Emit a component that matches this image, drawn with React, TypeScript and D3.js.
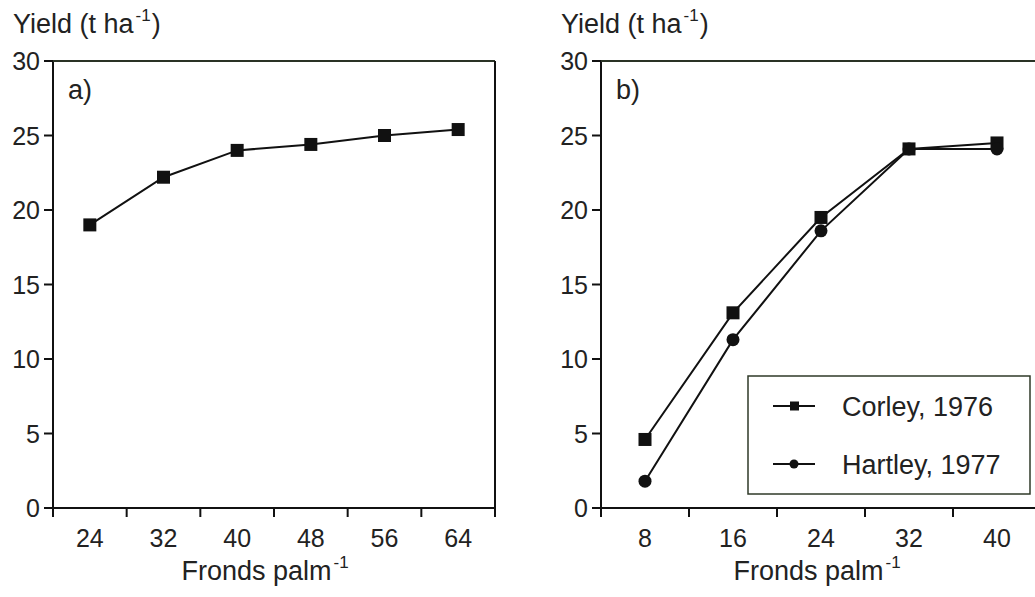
import React from 'react';
import * as d3 from 'd3';

// panel a) yield vs fronds per palm
const frondsA = [24, 32, 40, 48, 56, 64];
const yieldA = [19.0, 22.2, 24.0, 24.4, 25.0, 25.4];

// panel b) two literature series
const frondsB = [8, 16, 24, 32, 40];
const corley = [4.6, 13.1, 19.5, 24.1, 24.5];
const hartley = [1.8, 11.3, 18.6, 24.1, 24.1];

const yTicks = [0, 5, 10, 15, 20, 25, 30];
const legendLabels = ['Corley, 1976', 'Hartley, 1977'];

const W = 1035;
const H = 597;
const FONT = '"Liberation Sans", Arial, sans-serif';
const TXT = '#222';
const INK = '#111';

const y = d3.scaleLinear().domain([0, 30]).range([508, 61]);
const xA = d3.scaleBand<number>().domain(frondsA).range([53, 495]).padding(0);
const xB = d3.scaleBand<number>().domain(frondsB).range([601, 1041]).padding(0);

function Axes({ x, cats, label, titleX }: { x: d3.ScaleBand<number>; cats: number[]; label: string; titleX: number }) {
  const [x0, x1] = x.range();
  const y0 = y(0);
  const y1 = y(30);
  const bounds = [...cats.map(c => x(c) as number), x1];
  return (
    <g>
      {/* frame */}
      <line x1={x0 - 9} x2={x1} y1={y0} y2={y0} stroke={INK} strokeWidth={2} />
      <line x1={x0} x2={x0} y1={y1} y2={y0 + 9} stroke={INK} strokeWidth={2} />
      <line x1={x0} x2={x1} y1={y1} y2={y1} stroke="#2a3325" strokeWidth={2} />
      <line x1={x1} x2={x1} y1={y1} y2={y0 + 9} stroke={INK} strokeWidth={2} />
      {yTicks.map(t => (
        <g key={t}>
          <line x1={x0 - 9} x2={x0} y1={y(t)} y2={y(t)} stroke={INK} strokeWidth={2} />
          <text x={x0 - 13} y={y(t)} dy="0.36em" textAnchor="end" fontSize={25} fill={TXT} fontFamily={FONT}>
            {t}
          </text>
        </g>
      ))}
      {bounds.map((b, i) => (
        <line key={i} x1={b} x2={b} y1={y0} y2={y0 + 9} stroke={INK} strokeWidth={2} />
      ))}
      {cats.map(c => (
        <text key={c} x={(x(c) as number) + x.bandwidth() / 2} y={547} textAnchor="middle" fontSize={25} fill={TXT} fontFamily={FONT}>
          {c}
        </text>
      ))}
      <text x={x0 + 15} y={99} fontSize={27} fill={TXT} fontFamily={FONT}>{label}</text>
      <text x={titleX} y={580} textAnchor="middle" fontSize={27} fill={TXT} fontFamily={FONT}>
        Fronds palm<tspan fontSize={17} dx={2} dy={-12}>-1</tspan>
      </text>
      <text x={x0 - 40} y={33} fontSize={27} fill={TXT} fontFamily={FONT}>
        Yield (t ha<tspan fontSize={17} dx={2} dy={-12}>-1</tspan><tspan dx={1} dy={12}>)</tspan>
      </text>
    </g>
  );
}

function Series({ x, xs, ys, shape }: { x: d3.ScaleBand<number>; xs: number[]; ys: number[]; shape: 'square' | 'circle' }) {
  const cx = (c: number) => (x(c) as number) + x.bandwidth() / 2;
  const path = d3.line<number>().x((_, i) => cx(xs[i])).y(v => y(v))(ys) || '';
  return (
    <g>
      <path d={path} fill="none" stroke={INK} strokeWidth={2} />
      {ys.map((v, i) =>
        shape === 'square' ? (
          <rect key={i} x={cx(xs[i]) - 6.5} y={y(v) - 6.5} width={13} height={13} fill={INK} />
        ) : (
          <circle key={i} cx={cx(xs[i])} cy={y(v)} r={6.5} fill={INK} />
        )
      )}
    </g>
  );
}

export default function App() {
  return (
    <svg width={W} height={H} style={{ position: 'absolute', left: 0, top: 0, background: '#fff' }}>
      <rect width={W} height={H} fill="#fff" />
      <Axes x={xA} cats={frondsA} label="a)" titleX={265} />
      <Series x={xA} xs={frondsA} ys={yieldA} shape="square" />

      <Axes x={xB} cats={frondsB} label="b)" titleX={817} />
      <Series x={xB} xs={frondsB} ys={corley} shape="square" />
      <Series x={xB} xs={frondsB} ys={hartley} shape="circle" />

      <g>
        <rect x={748} y={376} width={282} height={118} fill="#fff" stroke="#2f3a28" strokeWidth={1.5} />
        {legendLabels.map((l, i) => {
          const ly = 406 + i * 58;
          return (
            <g key={l}>
              <line x1={773} x2={815} y1={ly} y2={ly} stroke={INK} strokeWidth={2} />
              {i === 0 ? (
                <rect x={790} y={ly - 4.5} width={9} height={9} fill={INK} />
              ) : (
                <circle cx={794} cy={ly} r={4.5} fill={INK} />
              )}
              <text x={842} y={ly} dy="0.36em" fontSize={27} fill={TXT} fontFamily={FONT}>{l}</text>
            </g>
          );
        })}
      </g>
    </svg>
  );
}
